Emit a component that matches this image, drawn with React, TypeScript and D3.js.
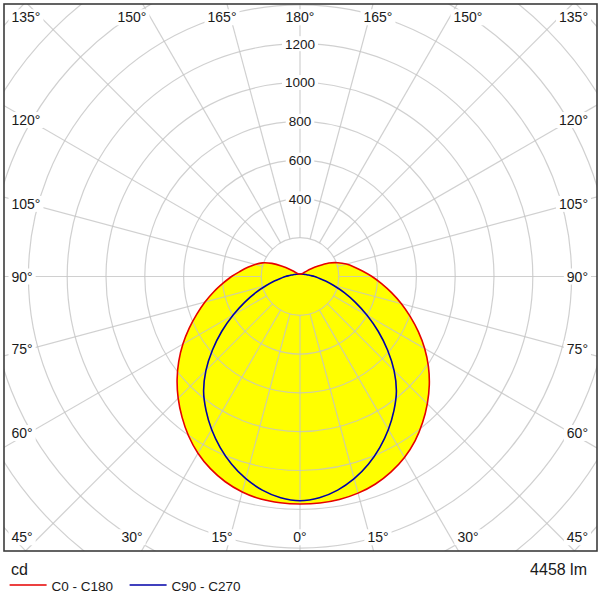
import React from "react";
import * as d3 from "d3";

// ---------- data ----------
const GAMMA = [0, 5, 10, 15, 20, 25, 30, 35, 40, 45, 50, 55, 60, 65, 70, 75, 80, 85, 90,
  95, 100, 105, 110, 115, 120, 125, 130, 135, 140, 145, 150, 155, 160, 165, 170, 175, 180];

// C0 (right half) and C180 (left half), cd
const C0 = [1173, 1172, 1167, 1156, 1138, 1111, 1077, 1034, 983, 928, 870, 808, 742, 673, 605, 541, 479, 422, 371,
  323, 283, 247, 208, 165, 108, 67, 41, 28, 21, 17, 15, 14, 14, 13, 13, 13, 13];
const C180 = [1173, 1171, 1165, 1150, 1126, 1093, 1052, 1002, 946, 888, 827, 763, 697, 630, 566, 507, 451, 398, 353,
  309, 273, 240, 206, 160, 106, 66, 40, 28, 21, 17, 15, 14, 14, 13, 13, 13, 13];
// C90 (right half) and C270 (left half), cd
const C90 = [1156, 1145, 1118, 1079, 1030, 973, 911, 844, 773, 686, 589, 492, 399, 315, 243, 180, 134, 98, 75,
  55, 44, 36, 30, 26, 23, 21, 19, 17, 16, 15, 14, 14, 13, 13, 13, 13, 13];
const C270 = [1156, 1145, 1118, 1079, 1030, 973, 911, 844, 773, 686, 589, 492, 399, 315, 243, 180, 134, 98, 75,
  55, 44, 36, 30, 26, 23, 21, 19, 17, 16, 15, 14, 14, 13, 13, 13, 13, 13];

const CIRCLE_VALUES = [200, 400, 600, 800, 1000, 1200, 1400, 1600, 1800, 2000];
const RADIAL_LABELS = [400, 600, 800, 1000, 1200];
const ANGLE_TICKS = [0, 15, 30, 45, 60, 75, 90, 105, 120, 135, 150, 165, 180];
const SERIES_NAMES = ["C0 - C180", "C90 - C270"];
const SERIES_COLORS = ["#e60000", "#0000a8"];
const UNIT = "cd";
const LUMEN = 4458;

// ---------- layout ----------
const X0 = 4, Y0 = 4, X1 = 597, Y1 = 551;
const CX = 300, CY = 276.5;
const FONT = "'Liberation Sans', Arial, sans-serif";

const r = d3.scaleLinear().domain([0, 1400]).range([0, 271.6]);

type P = { a: number; v: number };

function halves(right: number[], left: number[]): P[] {
  const pts: P[] = [];
  for (let i = GAMMA.length - 1; i >= 0; i--) {
    pts.push({ a: Math.PI - (GAMMA[i] * Math.PI) / 180, v: right[i] });
  }
  for (let i = 1; i < GAMMA.length - 1; i++) {
    pts.push({ a: Math.PI + (GAMMA[i] * Math.PI) / 180, v: left[i] });
  }
  return pts;
}

const radial = d3
  .lineRadial<P>()
  .angle((d) => d.a)
  .radius((d) => r(d.v))
  .curve(d3.curveCatmullRomClosed.alpha(0.5));

const redPath = radial(halves(C0, C180)) || "";
const bluePath = radial(halves(C90, C270)) || "";

function labelPos(g: number, side: number) {
  const rad = (g * Math.PI) / 180;
  const sx = side * Math.sin(rad);
  const sy = Math.cos(rad);
  const WL = 271, HL = 291;
  const tx = Math.abs(sx) > 1e-9 ? WL / Math.abs(sx) : Infinity;
  const ty = Math.abs(sy) > 1e-9 ? HL / Math.abs(sy) : Infinity;
  const clampY = (y: number) => Math.max(17.3, Math.min(537.3, y));
  if (tx <= ty) {
    const y = clampY(CY + tx * sy);
    return side < 0
      ? { x: X0 + 7.5, y, anchor: "start" as const }
      : { x: X1 - 9, y, anchor: "end" as const };
  }
  return { x: CX + ty * sx, y: clampY(CY + ty * sy), anchor: "middle" as const };
}

function textWidth(s: string, fs: number) {
  let w = 0;
  for (const ch of s) w += ch === "°" ? 0.4 : 0.556;
  return w * fs;
}

export default function App() {
  const angleLabels: { key: string; text: string; x: number; y: number; anchor: "start" | "end" | "middle" }[] = [];
  const lines: { g: number; s: number }[] = [];
  ANGLE_TICKS.forEach((g) => {
    const sides = g === 0 || g === 180 ? [1] : [-1, 1];
    sides.forEach((s) => {
      const p = labelPos(g, s);
      angleLabels.push({ key: `${g}_${s}`, text: `${g}°`, ...p });
      lines.push({ g, s });
    });
  });

  const afs = 14;
  const rfs = 13.5;

  return (
    <svg
      width={600}
      height={600}
      style={{ position: "absolute", left: 0, top: 0, background: "#fff" }}
    >
      <defs>
        <clipPath id="frame">
          <rect x={X0} y={Y0} width={X1 - X0} height={Y1 - Y0} />
        </clipPath>
      </defs>
      <rect x={0} y={0} width={600} height={600} fill="#fff" />
      <g clipPath="url(#frame)">
        <g transform={`translate(${CX},${CY})`}>
          <path d={redPath} fill="#ffff00" stroke="none" />
          <path d={bluePath} fill="#ffff00" stroke="none" />
        </g>
        <g transform={`translate(${CX},${CY})`} stroke="#c4c4c4" strokeOpacity={0.8} strokeWidth={1.2} fill="none">
          {CIRCLE_VALUES.map((v) => (
            <circle key={v} r={r(v)} />
          ))}
          {lines.map(({ g, s }) => {
            const rad = (g * Math.PI) / 180;
            const dx = s * Math.sin(rad);
            const dy = Math.cos(rad);
            const r0 = r(200);
            const r1 = 700;
            return (
              <line key={`${g}_${s}`} x1={dx * r0} y1={dy * r0} x2={dx * r1} y2={dy * r1} />
            );
          })}
        </g>
        {RADIAL_LABELS.map((v) => {
          const t = String(v);
          const w = textWidth(t, rfs);
          const y = CY - r(v);
          return (
            <g key={v}>
              <rect x={CX - w / 2 - 3} y={y - 7.5} width={w + 6} height={15} fill="#fff" />
              <text x={CX} y={y} dy="0.36em" textAnchor="middle" fontFamily={FONT} fontSize={rfs} fill="#1a1a1a">
                {t}
              </text>
            </g>
          );
        })}
        {angleLabels.map((l) => {
          const w = textWidth(l.text, afs);
          const left = l.anchor === "start" ? l.x : l.anchor === "end" ? l.x - w : l.x - w / 2;
          return (
            <g key={l.key}>
              <rect x={left - 3} y={l.y - 8} width={w + 6} height={16} fill="#fff" />
              <text x={l.x} y={l.y} dy="0.36em" textAnchor={l.anchor} fontFamily={FONT} fontSize={afs} fill="#1a1a1a">
                {l.text}
              </text>
            </g>
          );
        })}
        <g transform={`translate(${CX},${CY})`} fill="none" strokeWidth={1.6} strokeLinejoin="round">
          <path d={bluePath} stroke={SERIES_COLORS[1]} />
          <path d={redPath} stroke={SERIES_COLORS[0]} />
        </g>
      </g>
      <rect x={X0} y={Y0} width={X1 - X0} height={Y1 - Y0} fill="none" stroke="#3c3c3c" strokeWidth={1.6} />

      <text x={11} y={575} fontFamily={FONT} fontSize={16} fill="#1a1a1a">{UNIT}</text>
      <text x={587} y={575} textAnchor="end" fontFamily={FONT} fontSize={16} fill="#1a1a1a">{`${LUMEN} lm`}</text>

      {SERIES_NAMES.map((name, i) => {
        const x = 9.6 + i * 120;
        return (
          <g key={name}>
            <line x1={x} x2={x + 37} y1={585} y2={585} stroke={SERIES_COLORS[i]} strokeWidth={1.6} />
            <text x={x + 42} y={590.5} fontFamily={FONT} fontSize={13.5} fill="#1a1a1a">{name}</text>
          </g>
        );
      })}
    </svg>
  );
}
